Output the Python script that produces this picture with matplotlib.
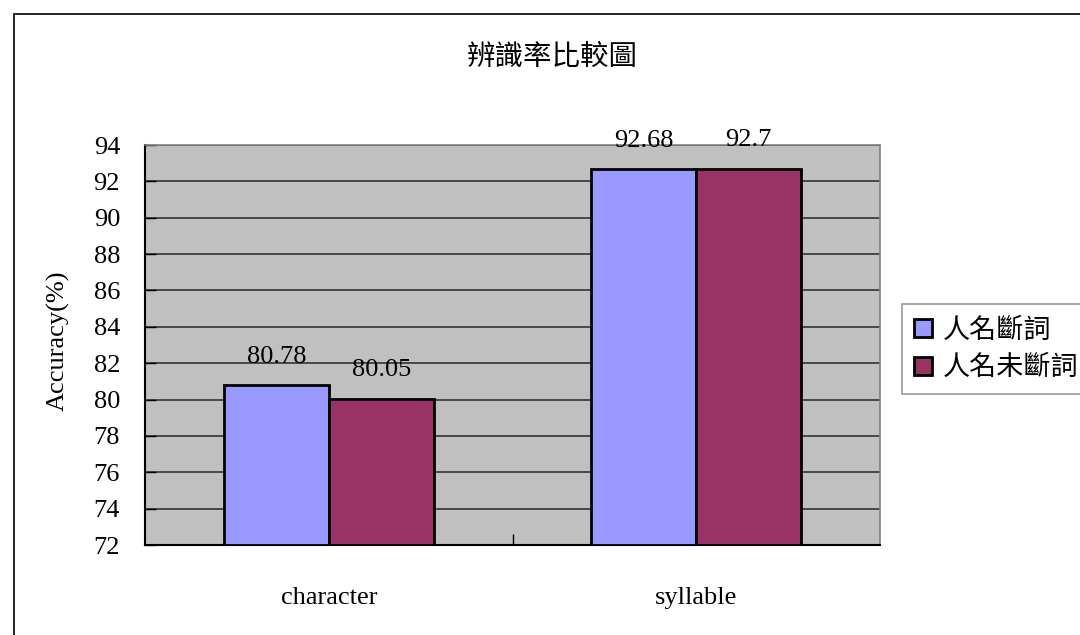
import numpy as np
import matplotlib
matplotlib.use('Agg')
import matplotlib.pyplot as plt
from matplotlib.patches import Rectangle

plt.rcParams['font.family'] = ['Liberation Serif', 'Noto Sans CJK TC', 'DejaVu Sans']

# accuracy data
categories = ['character', 'syllable']
series_names = ['人名斷詞', '人名未斷詞']
with_split = [80.78, 92.68]
without_split = [80.05, 92.7]
value_labels = [['80.78', '92.68'], ['80.05', '92.7']]
y_ticks = list(range(72, 95, 2))
colors = ['#9999FF', '#993366']

fig = plt.figure(figsize=(10.8, 6.35), dpi=100)
ax = fig.add_axes([145 / 1080, 1 - 545 / 635, 735 / 1080, 400 / 635])

# outer chart border
fig.patches.append(Rectangle((14 / 1080, -0.05), 1.0, 1 - 14 / 635 + 0.05,
                             transform=fig.transFigure, fill=False,
                             edgecolor='black', linewidth=1.2))

x = np.arange(len(categories))
width = 1 / 3.5
ax.set_facecolor('#C0C0C0')
for i, vals in enumerate([with_split, without_split]):
    pos = x + (i - 0.5) * width
    ax.bar(pos, [v - 72 for v in vals], bottom=72, width=width,
           color=colors[i], edgecolor='black', linewidth=2,
           label=series_names[i], zorder=3)
    for p, v, lab in zip(pos, vals, value_labels[i]):
        ax.text(p, v + 1.55, lab, ha='center', va='center', fontsize=19)

ax.set_xlim(-0.5, 1.5)
ax.set_ylim(72, 94)
ax.set_yticks(y_ticks)
ax.yaxis.grid(True, color='#333333', linewidth=1.2, zorder=0)
ax.set_axisbelow(True)
ax.tick_params(axis='y', direction='in', length=8, width=1, labelsize=19, pad=18)
ax.set_xticks([0.5])
ax.set_xticklabels([''])
ax.tick_params(axis='x', direction='in', length=8, width=1)
for xi, name in zip(x, categories):
    ax.text(xi, -0.1325, name, ha='center', va='center', fontsize=19,
            transform=ax.get_xaxis_transform())

ax.spines['left'].set_color('black')
ax.spines['left'].set_linewidth(1.5)
ax.spines['bottom'].set_color('black')
ax.spines['bottom'].set_linewidth(1.5)
for s in ['top', 'right']:
    ax.spines[s].set_color('#808080')
    ax.spines[s].set_linewidth(1.2)

ax.set_ylabel('Accuracy(%)', fontsize=19)
ax.yaxis.set_label_coords(-0.102, 0.51)
fig.text(552 / 1080, 1 - 57 / 635, '辨識率比較圖', ha='center', va='center',
         fontsize=20.5, family=['Noto Sans CJK TC'])

leg = ax.legend(loc='center left', bbox_to_anchor=(1.03, 0.49),
                prop={'family': ['Noto Sans CJK TC'], 'size': 19.5},
                frameon=True, fancybox=False, edgecolor='#808080',
                handlelength=0.67, handleheight=0.67, handletextpad=0.37,
                borderpad=0.45, labelspacing=0.4, borderaxespad=0)
leg.get_frame().set_linewidth(1.2)

fig.savefig('out.png', dpi=100)
